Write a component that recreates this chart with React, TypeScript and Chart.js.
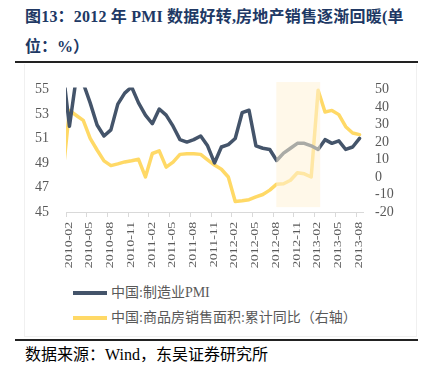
import React, { useEffect, useRef } from 'react';
import { Chart, registerables } from 'chart.js';

Chart.register(...registerables);

// Monthly categories (Jan 2010 – Aug 2013)
const months = [
  '2010-01', '2010-02', '2010-03', '2010-04', '2010-05', '2010-06', '2010-07', '2010-08', '2010-09', '2010-10', '2010-11', '2010-12',
  '2011-01', '2011-02', '2011-03', '2011-04', '2011-05', '2011-06', '2011-07', '2011-08', '2011-09', '2011-10', '2011-11', '2011-12',
  '2012-01', '2012-02', '2012-03', '2012-04', '2012-05', '2012-06', '2012-07', '2012-08', '2012-09', '2012-10', '2012-11', '2012-12',
  '2013-01', '2013-02', '2013-03', '2013-04', '2013-05', '2013-06', '2013-07', '2013-08',
];

// 中国:制造业PMI
const pmi = [
  56.8, 52.0, 56.0, 55.5, 53.9, 52.1, 51.2, 51.7, 53.8, 54.7, 55.2, 53.9,
  52.9, 52.2, 53.4, 52.9, 52.0, 50.9, 50.7, 50.9, 51.2, 50.4, 49.0, 50.3,
  50.5, 51.0, 53.1, 53.3, 50.4, 50.2, 50.1, 49.2, 49.8, 50.2, 50.6, 50.6,
  50.4, 50.1, 50.9, 50.6, 50.8, 50.1, 50.3, 51.0,
];

// 中国:商品房销售面积:累计同比（右轴）
const sales = [
  0, 38.0, 35.1, 32.3, 22.1, 15.4, 9.2, 6.5, 7.5, 8.6, 9.3, 10.1,
  0, 13.4, 14.9, 5.6, 8.5, 12.9, 13.2, 13.2, 12.9, 9.8, 6.8, 4.4,
  0, -14.0, -13.6, -13.0, -11.4, -10.0, -7.5, -4.1, -3.9, -1.9, 2.4, 1.8,
  0, 49.5, 37.1, 38.0, 35.6, 28.7, 25.1, 24.2,
];

// Tick labels shown on the x axis (every 3 months)
const xTickLabels = [
  '2010-02', '2010-05', '2010-08', '2010-11', '2011-02', '2011-05', '2011-08', '2011-11',
  '2012-02', '2012-05', '2012-08', '2012-11', '2013-02', '2013-05', '2013-08',
];

const leftTicks = [45, 47, 49, 51, 53, 55];
const rightTicks = [-20, -10, 0, 10, 20, 30, 40, 50];

const seriesNames = ['中国:制造业PMI', '中国:商品房销售面积:累计同比（右轴）'];
const colors = ['#44546A', '#FFD966'];

// highlighted period (2012-08 … 2013-02)
const shadeFrom = '2012-08';
const shadeTo = '2013-02';

const AXIS_FONT = '"Liberation Serif", "Times New Roman", "Noto Sans CJK SC", serif';
const CJK_FONT = '"Liberation Serif", "Times New Roman", "Noto Sans CJK SC", serif';

// position of a month on the x scale: month "2010-02" starts at 0, points sit mid-month
const monthPos = (m: string) => months.indexOf(m) - 1;

const shadePlugin = {
  id: 'shade',
  afterDatasetsDraw(chart: any) {
    const { ctx, scales } = chart;
    const x = scales.x;
    const y = scales.y;
    const x0 = x.getPixelForValue(monthPos(shadeFrom) + 0.45);
    const x1 = x.getPixelForValue(monthPos(shadeTo) + 0.8);
    const y0 = y.getPixelForValue(55.6);
    const y1 = y.getPixelForValue(45.4);
    ctx.save();
    ctx.fillStyle = 'rgba(255,242,215,0.55)';
    ctx.fillRect(x0, y0, x1 - x0, y1 - y0);
    ctx.restore();
  },
};

const xLabelPlugin = {
  id: 'xlabels',
  afterDraw(chart: any) {
    const { ctx, scales, chartArea } = chart;
    const x = scales.x;
    ctx.save();
    ctx.fillStyle = '#595959';
    ctx.font = '14px ' + AXIS_FONT;
    ctx.textAlign = 'right';
    ctx.textBaseline = 'alphabetic';
    xTickLabels.forEach((lab) => {
      const px = x.getPixelForValue(monthPos(lab));
      ctx.save();
      ctx.translate(px + 5.7, chartArea.bottom + 9.7);
      ctx.rotate(-Math.PI / 2);
      ctx.scale(1, 0.74);
      ctx.fillText(lab, 0, 0);
      ctx.restore();
    });
    ctx.restore();
  },
};

function ChartCanvas() {
  const ref = useRef<HTMLCanvasElement | null>(null);
  useEffect(() => {
    if (!ref.current) return;
    const chart = new Chart(ref.current, {
      type: 'line',
      data: {
        datasets: [
          {
            label: seriesNames[0],
            data: months.map((m, i) => ({ x: monthPos(m) + 0.5, y: pmi[i] })),
            borderColor: colors[0],
            backgroundColor: colors[0],
            borderWidth: 3.5,
            pointRadius: 0,
            tension: 0,
            yAxisID: 'y',
            borderJoinStyle: 'round',
            borderCapStyle: 'round',
            clip: { left: 0, top: 2, right: 3, bottom: 2 },
          },
          {
            label: seriesNames[1],
            data: months.map((m, i) => ({ x: monthPos(m) + 0.5, y: sales[i] })),
            borderColor: colors[1],
            backgroundColor: colors[1],
            borderWidth: 3.5,
            pointRadius: 0,
            tension: 0,
            yAxisID: 'y1',
            borderJoinStyle: 'round',
            borderCapStyle: 'round',
            clip: { left: 0, top: 2, right: 3, bottom: 2 },
          },
        ],
      },
      options: {
        responsive: false,
        animation: false,
        devicePixelRatio: 1,
        layout: { padding: { top: 15, left: 0, right: 0, bottom: 0 } },
        plugins: {
          legend: { display: false },
          tooltip: { enabled: false },
        },
        scales: {
          x: {
            type: 'linear',
            min: 0,
            max: months.length - 1,
            afterBuildTicks: (scale: any) => {
              scale.ticks = xTickLabels.map((l) => ({ value: monthPos(l) }));
            },
            afterFit: (scale: any) => {
              scale.height = 66;
            },
            ticks: { display: false, autoSkip: false },
            grid: {
              display: true,
              drawOnChartArea: false,
              drawTicks: true,
              tickLength: 5,
              color: '#D9D9D9',
              lineWidth: 1,
            },
            border: { display: true, color: '#D9D9D9', width: 1 },
          },
          y: {
            position: 'left',
            min: 45,
            max: 55,
            afterBuildTicks: (scale: any) => {
              scale.ticks = leftTicks.map((v) => ({ value: v }));
            },
            afterFit: (scale: any) => {
              scale.width = 66;
            },
            ticks: {
              color: '#595959',
              font: { family: AXIS_FONT, size: 14 },
              padding: 17,
              autoSkip: false,
            },
            grid: { display: false, drawTicks: false },
            border: { display: false },
          },
          y1: {
            position: 'right',
            min: -20,
            max: 50,
            afterBuildTicks: (scale: any) => {
              scale.ticks = rightTicks.map((v) => ({ value: v }));
            },
            afterFit: (scale: any) => {
              scale.width = 62;
            },
            ticks: {
              color: '#595959',
              font: { family: AXIS_FONT, size: 14 },
              padding: 12,
              autoSkip: false,
            },
            grid: { display: false, drawTicks: false },
            border: { display: false },
          },
        },
      },
      plugins: [shadePlugin, xLabelPlugin],
    } as any);
    return () => chart.destroy();
  }, []);
  return <canvas ref={ref} width={425} height={214} style={{ display: 'block' }} />;
}

export default function App() {
  return (
    <div
      style={{
        position: 'absolute',
        left: 0,
        top: 0,
        width: 425,
        height: 381,
        background: '#fff',
        overflow: 'hidden',
        fontFamily: CJK_FONT,
      }}
    >
      <div
        style={{
          position: 'absolute',
          left: 25,
          top: 7,
          fontSize: 16,
          lineHeight: '20px',
          fontWeight: 'bold',
          color: '#203864',
          whiteSpace: 'nowrap',
          letterSpacing: '0.2px',
        }}
      >
        图13：2012 年 PMI 数据好转,房地产销售逐渐回暖(单
      </div>
      <div
        style={{
          position: 'absolute',
          left: 25,
          top: 37,
          fontSize: 16,
          lineHeight: '20px',
          fontWeight: 'bold',
          color: '#203864',
          whiteSpace: 'nowrap',
        }}
      >
        位：%）
      </div>
      <div style={{ position: 'absolute', left: 15, top: 61, width: 403, height: 2, background: '#222' }} />
      <div
        style={{
          position: 'absolute',
          left: 24,
          top: 64,
          width: 393,
          height: 273,
          border: '1px solid #F0F0F0',
          borderTop: 'none',
          boxSizing: 'border-box',
        }}
      />
      <div style={{ position: 'absolute', left: 0, top: 64, width: 425, height: 214 }}>
        <ChartCanvas />
      </div>
      {seriesNames.map((name, i) => (
        <React.Fragment key={name}>
          <div
            style={{
              position: 'absolute',
              left: 73,
              top: 291 + i * 25,
              width: 34,
              height: 4,
              background: colors[i],
            }}
          />
          <div
            style={{
              position: 'absolute',
              left: 111,
              top: 284 + i * 25,
              fontSize: 14,
              lineHeight: '18px',
              color: '#595959',
              whiteSpace: 'nowrap',
            }}
          >
            {name}
          </div>
        </React.Fragment>
      ))}
      <div style={{ position: 'absolute', left: 15, top: 339, width: 403, height: 2, background: '#222' }} />
      <div
        style={{
          position: 'absolute',
          left: 25,
          top: 345,
          fontSize: 16,
          lineHeight: '20px',
          color: '#000',
          whiteSpace: 'nowrap',
        }}
      >
        数据来源：Wind，东吴证券研究所
      </div>
    </div>
  );
}
